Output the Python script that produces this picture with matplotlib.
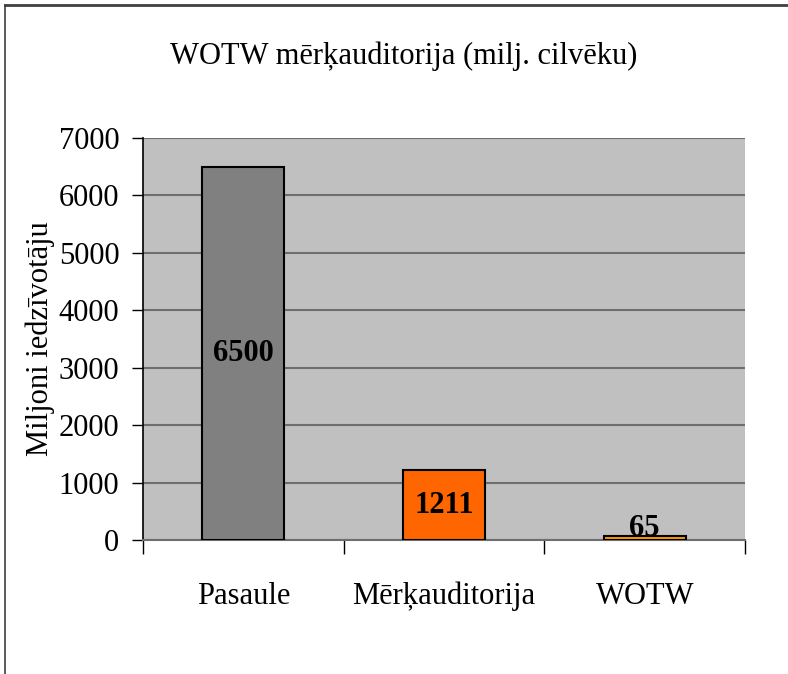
import matplotlib.pyplot as plt
from matplotlib.lines import Line2D
import numpy as np

# chart data
categories = ['Pasaule', 'Mērķauditorija', 'WOTW']
values = [6500, 1211, 65]
bar_colors = ['#808080', '#FF6600', '#FF9900']
y_ticks = [0, 1000, 2000, 3000, 4000, 5000, 6000, 7000]

plt.rcParams['font.family'] = ['Liberation Serif', 'DejaVu Serif']

fig = plt.figure(figsize=(7.88, 6.74), dpi=100)
ax = fig.add_axes([0.1815, 0.1988, 0.764, 0.5964])
ax.set_facecolor('#C0C0C0')

x = np.arange(len(categories))
ax.bar(x, values, width=0.41, color=bar_colors, edgecolor='black', linewidth=1.5, zorder=3)

# value labels (Excel keeps small ones off the axis)
for xi, v in zip(x, values):
    ax.text(xi, max(v / 2, 200), str(v), ha='center', va='center',
            fontsize=22, fontweight='bold', zorder=4)

ax.set_xlim(-0.5, len(categories) - 0.5)
ax.set_ylim(0, 7000)
ax.set_yticks(y_ticks)
ax.yaxis.grid(True, color='#6E6E6E', linewidth=1.5, zorder=0)
ax.set_axisbelow(True)

ax.set_xticks(np.arange(-0.5, len(categories)), minor=False)
ax.set_xticklabels([])
ax.set_xticks(x, minor=True)
ax.set_xticklabels(categories, minor=True, fontsize=22)
ax.tick_params(axis='x', which='major', length=10, width=1, direction='out', color='black')
ax.tick_params(axis='x', which='minor', length=0, pad=30)
ax.tick_params(axis='y', length=8, width=1, direction='out', labelsize=22, pad=9)

for side in ['top', 'right']:
    ax.spines[side].set_visible(False)
ax.spines['left'].set_linewidth(1.2)
ax.spines['bottom'].set_color('#6E6E6E')
ax.spines['bottom'].set_linewidth(1.5)

ax.set_ylabel('Miljoni iedzīvotāju', fontsize=22, labelpad=3)
fig.text(0.512, 0.917, 'WOTW mērķauditorija (milj. cilvēku)', ha='center', va='center', fontsize=22)

# outer chart frame
fig.add_artist(Line2D([0.006, 1.0], [0.993, 0.993], color='#404040', linewidth=2))
fig.add_artist(Line2D([0.006, 0.006], [0.0, 0.993], color='#404040', linewidth=1.2))

fig.savefig('out.png', dpi=100)
